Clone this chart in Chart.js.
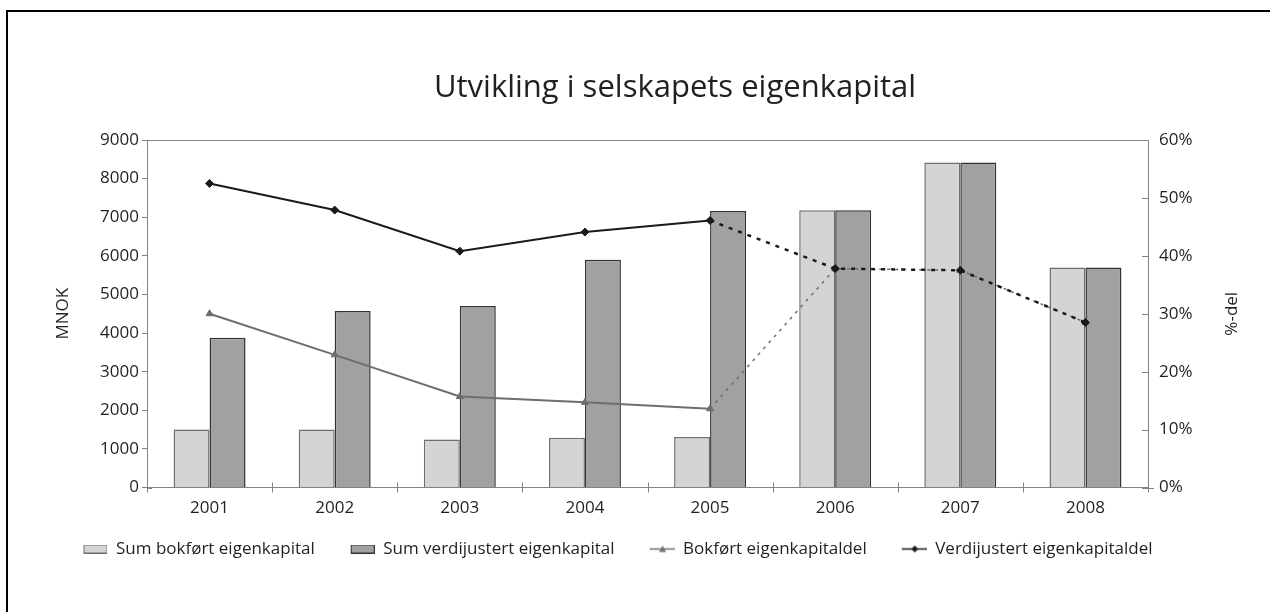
<!DOCTYPE html>
<html>
<head>
<meta charset="utf-8">
<script src="https://cdn.jsdelivr.net/npm/chart.js@4.4.1/dist/chart.umd.min.js"></script>
<style>
  body { margin: 0; background: #fff; }
  #wrap { position: relative; width: 1270px; height: 612px; }
  #frame { position: absolute; left: 6px; top: 10px; width: 1300px; height: 700px;
           border-left: 2px solid #000; border-top: 2px solid #000; pointer-events: none; }
</style>
</head>
<body>
<div id="wrap">
  <canvas id="chart" width="1270" height="612"></canvas>
  <div id="frame"></div>
</div>
<script>
const years = ["2001", "2002", "2003", "2004", "2005", "2006", "2007", "2008"];
const sumBokfort = [1500, 1500, 1240, 1290, 1310, 7180, 8420, 5700];
const sumVerdijustert = [3880, 4570, 4700, 5900, 7160, 7180, 8420, 5700];
const bokfortDel = [30.0, 22.9, 15.7, 14.7, 13.6, 37.8, 37.5, 28.5];
const verdijustertDel = [52.5, 47.9, 40.8, 44.1, 46.1, 37.8, 37.5, 28.5];
const mnokTicks = [0, 1000, 2000, 3000, 4000, 5000, 6000, 7000, 8000, 9000];
const pctTicks = [0, 10, 20, 30, 40, 50, 60];

const FONT = "'Open Sans', 'Noto Sans', sans-serif";
const TEXT = "#231f20";
const AXIS = "#808285";
const LIGHT = "#d3d4d6";
const LIGHT_EDGE = "#6d6e70";
const DARK = "#a0a1a3";
const DARK_EDGE = "#333333";
const GRAY_LINE = "#6d6e70";
const BLACK_LINE = "#1a1a1a";

// legend icons: blank lead-in on the left works as spacing between items
const ICON_W = 37, LEAD = 13;
function barIcon(fill, edge) {
  const c = document.createElement("canvas");
  c.width = ICON_W; c.height = 9;
  const g = c.getContext("2d");
  g.fillStyle = fill;
  g.fillRect(LEAD + 1, 1, 22, 7);
  g.strokeStyle = edge;
  g.lineWidth = 1;
  g.strokeRect(LEAD + 0.5, 0.5, 23, 8);
  return c;
}
function lineIcon(color, marker) {
  const c = document.createElement("canvas");
  c.width = ICON_W; c.height = 9;
  const g = c.getContext("2d");
  g.strokeStyle = color;
  g.lineWidth = 1.5;
  g.beginPath(); g.moveTo(LEAD - 1, 4.5); g.lineTo(ICON_W, 4.5); g.stroke();
  g.fillStyle = color;
  const cx = LEAD + 12;
  g.beginPath();
  if (marker === "triangle") {
    g.moveTo(cx, 1); g.lineTo(cx + 3.5, 7.5); g.lineTo(cx - 3.5, 7.5);
  } else {
    g.moveTo(cx, 1); g.lineTo(cx + 3.5, 4.5); g.lineTo(cx, 8); g.lineTo(cx - 3.5, 4.5);
  }
  g.closePath(); g.fill();
  return c;
}
const legendIcons = [
  barIcon(LIGHT, LIGHT_EDGE),
  barIcon(DARK, DARK_EDGE),
  lineIcon(GRAY_LINE, "triangle"),
  lineIcon(BLACK_LINE, "diamond"),
];

const dashedFrom = 4; // segments after 2005 are dashed

const extras = {
  id: "extras",
  afterDraw(chart) {
    const ctx = chart.ctx;
    const xs = chart.scales.x, ys = chart.scales.y, yr = chart.scales.y1;
    ctx.save();
    ctx.strokeStyle = AXIS;
    ctx.lineWidth = 1;
    // category boundary ticks crossing the x axis
    const step = (xs.right - xs.left) / years.length;
    for (let k = 0; k <= years.length; k++) {
      const x = Math.round(xs.left + k * step) + 0.5;
      ctx.beginPath(); ctx.moveTo(x, xs.top - 5); ctx.lineTo(x, xs.top + 5); ctx.stroke();
    }
    // inner ticks on the right axis
    pctTicks.forEach(v => {
      const y = Math.round(yr.getPixelForValue(v)) + 0.5;
      ctx.beginPath();
      ctx.moveTo(yr.left - 6, y);
      ctx.lineTo(v === 0 ? yr.left + 6 : yr.left, y);
      ctx.stroke();
    });
    // left axis zero cross
    const y0 = Math.round(ys.getPixelForValue(0)) + 0.5;
    ctx.beginPath(); ctx.moveTo(ys.right, y0); ctx.lineTo(ys.right + 5, y0); ctx.stroke();

    // title
    ctx.fillStyle = TEXT;
    ctx.font = "31px " + FONT;
    ctx.textAlign = "center";
    ctx.textBaseline = "alphabetic";
    ctx.fillText("Utvikling i selskapets eigenkapital", 675, 97);

    // right axis title, reading upwards
    ctx.font = "17px " + FONT;
    ctx.translate(1232, (yr.top + yr.bottom) / 2);
    ctx.rotate(-Math.PI / 2);
    ctx.textBaseline = "middle";
    ctx.fillText("%-del", 0, 0);
    ctx.restore();
  }
};

new Chart(document.getElementById("chart"), {
  data: {
    labels: years,
    datasets: [
      {
        type: "bar",
        label: "Sum bokført eigenkapital",
        data: sumBokfort,
        backgroundColor: LIGHT,
        borderColor: LIGHT_EDGE,
        borderWidth: 1.5,
        yAxisID: "y",
        order: 2,
      },
      {
        type: "bar",
        label: "Sum verdijustert eigenkapital",
        data: sumVerdijustert,
        backgroundColor: DARK,
        borderColor: DARK_EDGE,
        borderWidth: 1.5,
        yAxisID: "y",
        order: 2,
      },
      {
        type: "line",
        label: "Bokført eigenkapitaldel",
        data: bokfortDel,
        borderColor: GRAY_LINE,
        backgroundColor: GRAY_LINE,
        borderWidth: 2,
        pointStyle: "triangle",
        pointRadius: 4,
        pointBorderWidth: 1,
        yAxisID: "y1",
        order: 1,
        segment: {
          borderDash: ctx => (ctx.p0DataIndex >= dashedFrom ? [3, 5] : undefined),
          borderWidth: ctx => (ctx.p0DataIndex >= dashedFrom ? 1.5 : undefined),
        },
      },
      {
        type: "line",
        label: "Verdijustert eigenkapitaldel",
        data: verdijustertDel,
        borderColor: BLACK_LINE,
        backgroundColor: BLACK_LINE,
        borderWidth: 2,
        pointStyle: "rectRot",
        pointRadius: 4,
        pointBorderWidth: 1,
        yAxisID: "y1",
        order: 0,
        segment: {
          borderDash: ctx => (ctx.p0DataIndex >= dashedFrom ? [4, 6] : undefined),
          borderWidth: ctx => (ctx.p0DataIndex >= dashedFrom ? 2.5 : undefined),
        },
      },
    ],
  },
  options: {
    responsive: false,
    animation: false,
    devicePixelRatio: 1,
    layout: { padding: { top: 140, right: 47, bottom: 44.5, left: 0 } },
    datasets: {
      bar: { categoryPercentage: 0.575, barPercentage: 1 },
    },
    plugins: {
      tooltip: { enabled: false },
      title: { display: false },
      legend: {
        position: "bottom",
        labels: {
          usePointStyle: true,
          pointStyleWidth: ICON_W,
          padding: 23,
          color: TEXT,
          font: { family: FONT, size: 17 },
          generateLabels: chart => chart.data.datasets.map((ds, i) => ({
            text: ds.label,
            pointStyle: legendIcons[i],
            fillStyle: "transparent",
            strokeStyle: "transparent",
            lineWidth: 0,
            hidden: false,
            datasetIndex: i,
            fontColor: TEXT,
          })),
        },
      },
    },
    scales: {
      x: {
        offset: true,
        grid: { display: false, drawTicks: false },
        border: { color: AXIS, width: 1 },
        ticks: { color: TEXT, font: { family: FONT, size: 17 }, padding: 10 },
        afterFit: s => { s.height = 30; },
      },
      y: {
        position: "left",
        min: 0,
        max: 9000,
        afterBuildTicks: s => { s.ticks = mnokTicks.map(v => ({ value: v })); },
        grid: {
          drawOnChartArea: true,
          color: c => (c.tick && c.tick.value === 9000 ? AXIS : "transparent"),
          tickColor: AXIS,
          tickLength: 5,
        },
        border: { color: AXIS, width: 1 },
        ticks: {
          color: TEXT,
          font: { family: FONT, size: 17 },
          padding: 3,
          callback: v => String(v),
        },
        title: {
          display: true,
          text: "MNOK",
          color: TEXT,
          font: { family: FONT, size: 17 },
          padding: { top: 53, bottom: 0 },
        },
        afterFit: s => { s.width = 147; },
      },
      y1: {
        position: "right",
        min: 0,
        max: 60,
        afterBuildTicks: s => { s.ticks = pctTicks.map(v => ({ value: v })); },
        grid: { drawOnChartArea: false, drawTicks: false },
        border: { color: AXIS, width: 1 },
        ticks: {
          color: TEXT,
          font: { family: FONT, size: 17 },
          padding: 11,
          callback: v => v + "%",
        },
        afterFit: s => { s.width = 1223 - 1148; },
      },
    },
  },
  plugins: [extras],
});
</script>
</body>
</html>
